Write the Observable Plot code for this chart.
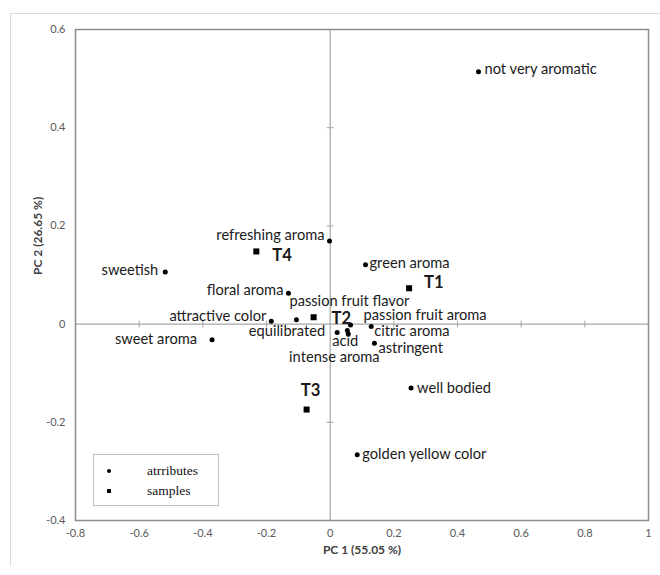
<!DOCTYPE html>
<html>
<head>
<meta charset="utf-8">
<script src="https://cdn.jsdelivr.net/npm/d3@7"></script>
<script src="https://cdn.jsdelivr.net/npm/@observablehq/plot@0.6"></script>
<style>
  html, body { margin: 0; padding: 0; background: #fff; overflow: hidden; }
  #wrap { position: relative; width: 660px; height: 575px; }
  #border { position: absolute; left: 10px; top: 13px; width: 660px; height: 552px;
            border-top: 1px solid #d9d9d9; border-left: 1px solid #d9d9d9; }
  #chart { position: absolute; left: 0; top: 0; }
  #legend { position: absolute; left: 93px; top: 454px; width: 124px; height: 50px;
            border: 1px solid #bfbfbf; background: #fff;
            font-family: "Liberation Serif", "Times New Roman", serif; font-size: 13.5px; color: #111; }
  #legend .row { position: absolute; left: 0; height: 16px; line-height: 16px; width: 124px; }
  #legend .mk { position: absolute; left: 13px; top: 6px; width: 4px; height: 4px; background: #000; }
  #legend .lab { position: absolute; left: 53px; top: 0; }
</style>
</head>
<body>
<div id="wrap">
  <div id="border"></div>
  <div id="chart"></div>
  <div id="legend">
    <div class="row" style="top:8px"><div class="mk" style="border-radius:50%"></div><span class="lab">atrributes</span></div>
    <div class="row" style="top:28px"><div class="mk"></div><span class="lab">samples</span></div>
  </div>
</div>
<script>
// ---- data ----
const attributes = ["not very aromatic", "refreshing aroma", "sweetish", "green aroma", "floral aroma",
  "attractive color", "passion fruit flavor", "passion fruit aroma", "intense aroma", "equilibrated",
  "acid", "citric aroma", "astringent", "sweet aroma", "well bodied", "golden yellow color"];
const attrPC1 = [0.466, -0.002, -0.518, 0.111, -0.131, -0.185, -0.106, 0.064, 0.054, 0.022,
  0.057, 0.129, 0.139, -0.371, 0.254, 0.085];
const attrPC2 = [0.514, 0.169, 0.106, 0.121, 0.063, 0.006, 0.009, -0.002, -0.013, -0.017,
  -0.020, -0.005, -0.039, -0.032, -0.130, -0.266];

const samples = ["T1", "T2", "T3", "T4"];
const samplePC1 = [0.248, -0.052, -0.074, -0.232];
const samplePC2 = [0.073, 0.014, -0.174, 0.148];

const xTicks = [-0.8, -0.6, -0.4, -0.2, 0, 0.2, 0.4, 0.6, 0.8, 1];
const yTicks = [-0.4, -0.2, 0, 0.2, 0.4, 0.6];
const xTitle = "PC 1 (55.05 %)";
const yTitle = "PC 2 (26.65 %)";

// ---- label placement (layout only) ----
const placement = {
  "not very aromatic": ["start", 6, -2],
  "refreshing aroma": ["end", -5, -6],
  "sweetish": ["end", -7, -2],
  "green aroma": ["start", 4, -1],
  "floral aroma": ["end", -5, -3],
  "attractive color": ["end", -5, -5],
  "passion fruit flavor": ["start", -7, -18],
  "passion fruit aroma": ["start", 13, -10],
  "intense aroma": ["middle", -13, 27],
  "equilibrated": ["end", -12, -1],
  "acid": ["middle", -3, 7],
  "citric aroma": ["start", 3, 5],
  "astringent": ["start", 4, 5],
  "sweet aroma": ["end", -15, -1],
  "well bodied": ["start", 6, 0],
  "golden yellow color": ["start", 5, 0],
  "T1": ["start", 15, -6],
  "T2": ["start", 18, 1],
  "T3": ["middle", 4, -19],
  "T4": ["start", 16, 4]
};

const attrData = attributes.map((name, i) => ({name, x: attrPC1[i], y: attrPC2[i]}));
const sampleData = samples.map((name, i) => ({name, x: samplePC1[i], y: samplePC2[i]}));

// fit label font size to the reference label width
const fontFam = "Lato, sans-serif";
const cv = document.createElement("canvas").getContext("2d");
cv.font = "100px Lato";
const w100 = cv.measureText("golden yellow color").width;
const labelSize = Math.max(11, Math.min(15, 100 * 125 / w100));

const fmt = d => String(Math.round(d * 10) / 10);
const vtick = {draw(ctx, size) { const r = Math.sqrt(size / Math.PI); ctx.moveTo(0, -r); ctx.lineTo(0, r); }};
const htick = {draw(ctx, size) { const r = Math.sqrt(size / Math.PI); ctx.moveTo(-r, 0); ctx.lineTo(r, 0); }};

const labelMarks = [
  ...attrData.map(d => {
    const [a, dx, dy] = placement[d.name];
    return Plot.text([d], {x: "x", y: "y", text: "name", textAnchor: a, dx, dy,
      fontSize: labelSize, fill: "#1a1a1a", fontFamily: fontFam});
  }),
  ...sampleData.map(d => {
    const [a, dx, dy] = placement[d.name];
    return Plot.text([d], {x: "x", y: "y", text: "name", textAnchor: a, dx, dy,
      fontSize: labelSize + 2, fontWeight: "bold", fill: "#1a1a1a", fontFamily: fontFam});
  })
];

const chart = Plot.plot({
  width: 660, height: 575,
  marginLeft: 75, marginRight: 12, marginTop: 29, marginBottom: 55,
  style: {fontFamily: fontFam, fontSize: "11px", color: "#595959", background: "transparent", overflow: "visible"},
  x: {domain: [-0.8, 1], ticks: xTicks, tickFormat: fmt, tickSize: 0, tickPadding: 9, label: null},
  y: {domain: [-0.4, 0.6], ticks: yTicks, tickFormat: fmt, tickSize: 0, tickPadding: 10, label: null},
  marks: [
    Plot.ruleX([0], {stroke: "#a6a6a6", strokeWidth: 1.2}),
    Plot.ruleY([0], {stroke: "#a6a6a6", strokeWidth: 1.2}),
    Plot.dot(xTicks.filter(v => v !== 0 && v !== -0.8 && v !== 1), {x: d => d, y: () => 0, symbol: vtick, r: 3.5, stroke: "#a6a6a6", strokeWidth: 1}),
    Plot.dot(yTicks.filter(v => v !== 0 && v !== -0.4 && v !== 0.6), {x: () => 0, y: d => d, symbol: htick, r: 3.5, stroke: "#a6a6a6", strokeWidth: 1}),
    Plot.frame({stroke: "#8c8c8c", strokeWidth: 1.5}),
    Plot.dot(attrData, {x: "x", y: "y", r: 2.5, fill: "#000"}),
    Plot.dot(sampleData, {x: "x", y: "y", r: 3.4, symbol: "square", fill: "#000"}),
    ...labelMarks,
    Plot.text([xTitle], {frameAnchor: "bottom", dy: 33, fontWeight: "bold", fontSize: 12, fill: "#404040"}),
    Plot.text([yTitle], {frameAnchor: "left", dx: -37, rotate: -90, fontWeight: "bold", fontSize: 12, fill: "#404040"})
  ]
});
document.getElementById("chart").appendChild(chart);
</script>
</body>
</html>
